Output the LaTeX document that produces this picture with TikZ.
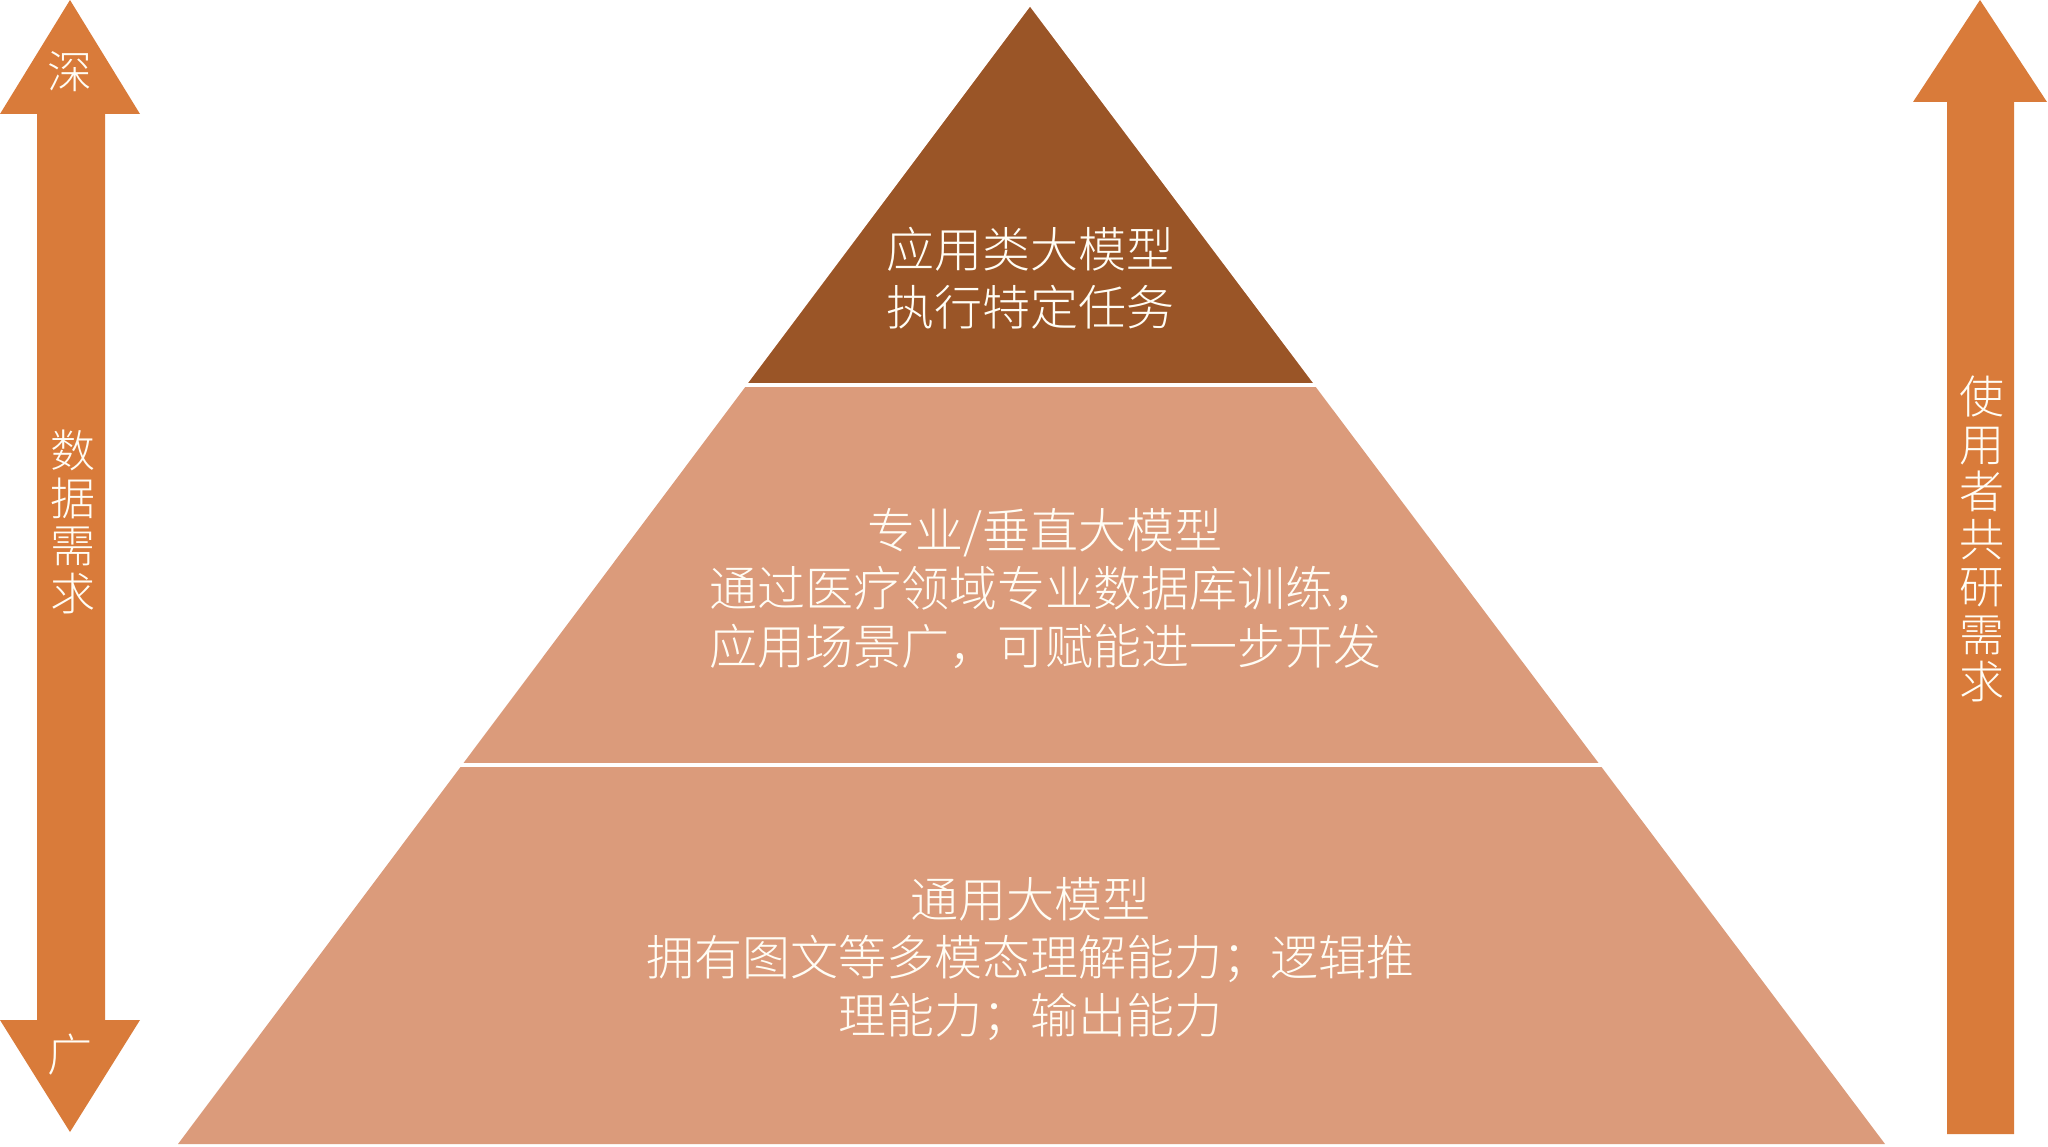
\documentclass[tikz,border=0pt]{standalone}
\usepackage{fontspec}
\newfontfamily\cjk{Noto Sans CJK SC Light}
\definecolor{arrowc}{HTML}{D97B3A}
\definecolor{topc}{HTML}{9A5527}
\definecolor{layerc}{HTML}{DB9B7B}
\definecolor{txtc}{HTML}{FFFDF5}
\begin{document}
\begin{tikzpicture}[x=1pt,y=-1pt,
  lbl/.style={text=txtc,align=center,inner sep=0pt,font=\cjk\fontsize{48}{58}\selectfont},
  vlbl/.style={text=txtc,align=center,inner sep=0pt,font=\cjk\fontsize{45}{47.5}\selectfont},
  sep/.style={draw=white,line width=4pt}]
\useasboundingbox (0,0) rectangle (2048,1147);
% pyramid
\coordinate (apex) at (1030,7);
\coordinate (bl) at (178,1144);
\coordinate (br) at (1885,1144);
\fill[layerc] (apex) -- (br) -- (bl) -- cycle;
\fill[topc] (apex) -- (1312.8,383) -- (748.3,383) -- cycle;
\draw[sep] (740,385) -- (1322,385);
\draw[sep] (455,765) -- (1606,765);
% left double arrow
\fill[arrowc] (70,0) -- (140,114) -- (105,114) -- (105,1020) -- (140,1020) -- (70,1132)
  -- (0,1020) -- (37,1020) -- (37,114) -- (0,114) -- cycle;
% right arrow
\fill[arrowc] (1980,0) -- (2047,102) -- (2014,102) -- (2014,1134) -- (1947,1134)
  -- (1947,102) -- (1913,102) -- cycle;
% texts
\node[lbl] (t1) at (1030,278) {应用类大模型\\执行特定任务};
\node[lbl] (t2) at (1045,589) {专业/垂直大模型\\通过医疗领域专业数据库训练，\\应用场景广，可赋能进一步开发};
\node[lbl] (t3) at (1030,959) {通用大模型\\拥有图文等多模态理解能力；逻辑推\\理能力；输出能力};
\node[vlbl] (deep) at (70,72) {深};
\node[vlbl] (wide) at (70,1055) {广};
\node[vlbl] (ld) at (73,522) {数\\据\\需\\求};
\node[vlbl] (ru) at (1982,539) {使\\用\\者\\共\\研\\需\\求};
\end{tikzpicture}
\end{document}
